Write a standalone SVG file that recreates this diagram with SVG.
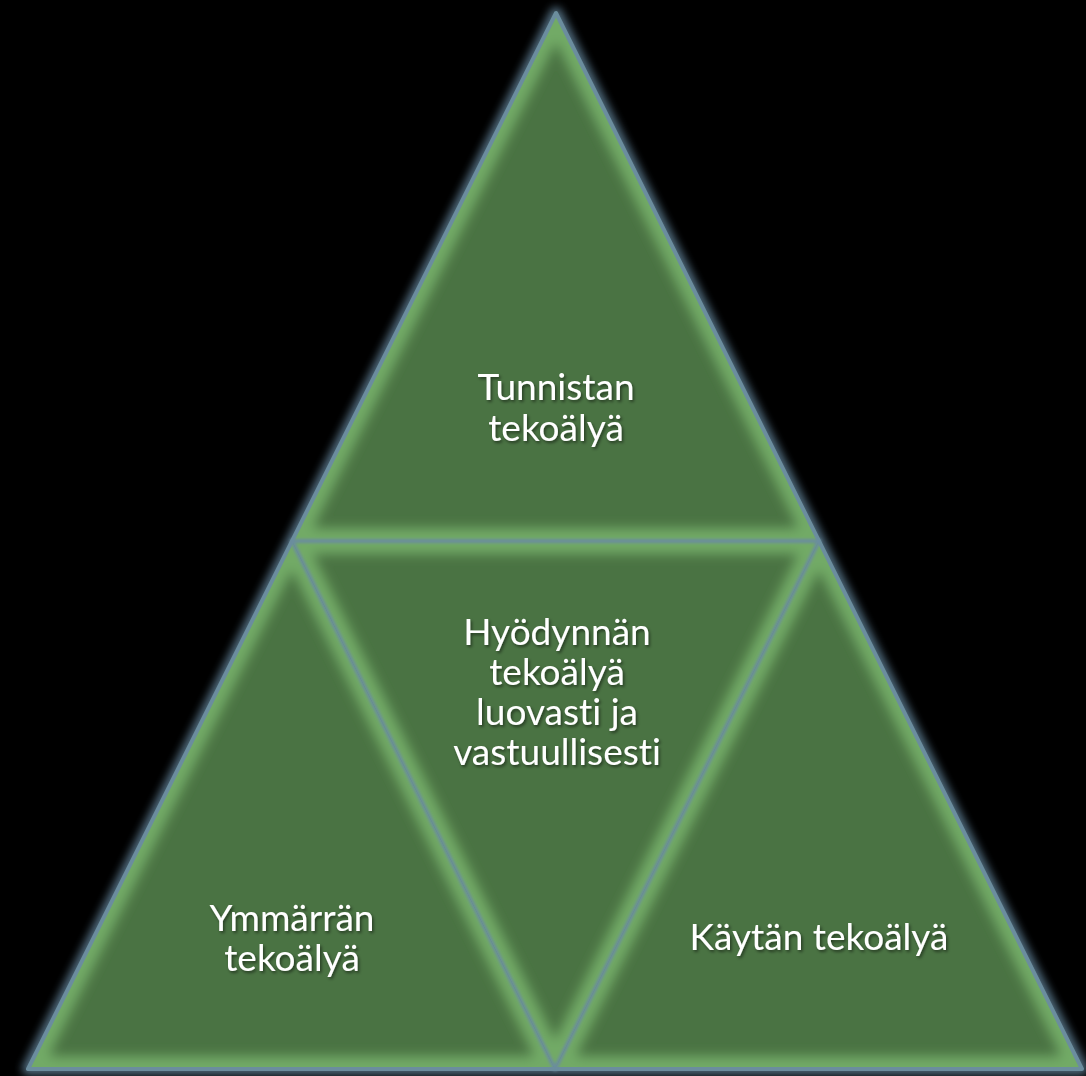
<svg xmlns="http://www.w3.org/2000/svg" width="1086" height="1076" viewBox="0 0 1086 1076">
<defs>
<style>
.base{fill:#4a7343}
.bev{fill:none;stroke:#72aa66;stroke-width:26;stroke-linejoin:miter}
.edge{fill:none;stroke:#6b8d9e;stroke-width:4;stroke-linejoin:round}
.lbl{font-family:Lato,"Noto Sans","Liberation Sans",sans-serif;font-size:37px;fill:#ffffff;text-anchor:middle;font-variant-ligatures:none}
</style>
<filter id="blur" x="-10%" y="-10%" width="120%" height="120%"><feGaussianBlur stdDeviation="6"/></filter>
<filter id="glow" x="-10%" y="-10%" width="120%" height="120%"><feGaussianBlur stdDeviation="4"/></filter>
<filter id="soft" x="-10%" y="-10%" width="120%" height="120%"><feGaussianBlur stdDeviation="1.5"/></filter>
<filter id="sh" x="-10%" y="-20%" width="120%" height="140%"><feDropShadow dx="1.5" dy="2" stdDeviation="1.5" flood-color="#000" flood-opacity="0.5"/></filter>
<clipPath id="cTop"><polygon points="556,13 292,541 819,541"/></clipPath>
<clipPath id="cLeft"><polygon points="292,541 28,1069 555,1069"/></clipPath>
<clipPath id="cMid"><polygon points="292,541 819,541 555,1069"/></clipPath>
<clipPath id="cRight"><polygon points="819,541 555,1069 1082,1069"/></clipPath>
</defs>
<rect width="1086" height="1076" fill="#000"/>
<polygon points="556,13 28,1069 1082,1069" fill="none" stroke="#5f7f94" stroke-width="12" stroke-linejoin="round" filter="url(#glow)" opacity="0.85"/>
<g id="node-top">
<polygon class="base" points="556,13 292,541 819,541"/>
<g clip-path="url(#cTop)"><polygon class="bev" points="556,13 292,541 819,541" filter="url(#blur)"/></g>
</g>
<g id="node-left">
<polygon class="base" points="292,541 28,1069 555,1069"/>
<g clip-path="url(#cLeft)"><polygon class="bev" points="292,541 28,1069 555,1069" filter="url(#blur)"/></g>
</g>
<g id="node-mid">
<polygon class="base" points="292,541 819,541 555,1069"/>
<g clip-path="url(#cMid)"><polygon class="bev" points="292,541 819,541 555,1069" filter="url(#blur)"/></g>
</g>
<g id="node-right">
<polygon class="base" points="819,541 555,1069 1082,1069"/>
<g clip-path="url(#cRight)"><polygon class="bev" points="819,541 555,1069 1082,1069" filter="url(#blur)"/></g>
</g>
<g id="connectors">
<polygon class="edge" points="556,13 28,1069 1082,1069" stroke="#4f6c80" stroke-width="3"/>
<polygon class="edge" points="292,541 819,541 555,1069" stroke-width="6" filter="url(#soft)"/>
</g>
<g id="labels" filter="url(#sh)">
<text class="lbl"><tspan x="556" y="400">Tunnistan</tspan><tspan x="556" y="441">tekoälyä</tspan></text>
<text class="lbl"><tspan x="557" y="645">Hyödynnän</tspan><tspan x="557" y="685">tekoälyä</tspan><tspan x="557" y="725">luovasti ja</tspan><tspan x="557" y="765">vastuullisesti</tspan></text>
<text class="lbl"><tspan x="292" y="931">Ymmärrän</tspan><tspan x="292" y="971">tekoälyä</tspan></text>
<text class="lbl" x="819" y="950">Käytän tekoälyä</text>
</g>
</svg>
